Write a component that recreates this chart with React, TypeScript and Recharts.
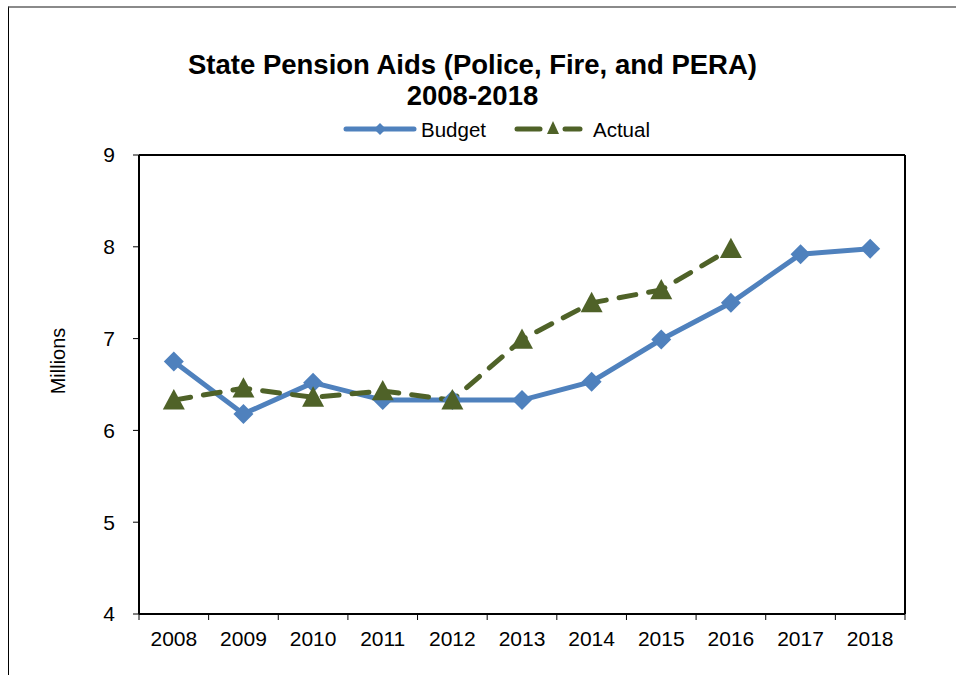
import React from "react";
import { LineChart, Line, XAxis, YAxis } from "recharts";

const years = [2008, 2009, 2010, 2011, 2012, 2013, 2014, 2015, 2016, 2017, 2018];
const budget = [6.75, 6.18, 6.52, 6.33, 6.33, 6.33, 6.53, 6.99, 7.39, 7.92, 7.98];
const actual = [6.33, 6.46, 6.36, 6.43, 6.33, 6.99, 7.39, 7.53, 7.98, null, null];
const yTicks = [4, 5, 6, 7, 8, 9];
const boundaryTicks = [2007.5, 2008.5, 2009.5, 2010.5, 2011.5, 2012.5, 2013.5, 2014.5, 2015.5, 2016.5, 2017.5, 2018.5];

const BLUE = "#4F81BD";
const OLIVE = "#4F6228";
const FONT = "Arial, 'Liberation Sans', sans-serif";

const data = years.map((year, i) => ({
  year,
  budget: budget[i],
  actual: actual[i],
}));

const Diamond = (props: any) => {
  const { cx, cy, size = 10 } = props;
  if (cx == null || cy == null) return null;
  return (
    <path
      d={`M${cx},${cy - size} L${cx + size},${cy} L${cx},${cy + size} L${cx - size},${cy} Z`}
      fill={BLUE}
    />
  );
};

const Triangle = (props: any) => {
  const { cx, cy, value, size = 11 } = props;
  if (cx == null || cy == null || value == null) return null;
  return (
    <path
      d={`M${cx},${cy - size} L${cx + size},${cy + size * 0.85} L${cx - size},${cy + size * 0.85} Z`}
      fill={OLIVE}
    />
  );
};

const Blank = () => <g />;

export default function App() {
  return (
    <div style={{ position: "absolute", left: 0, top: 0, width: 963, height: 675, fontFamily: FONT }}>
      <div
        style={{
          position: "absolute",
          left: 8,
          top: 6,
          width: 947,
          height: 675,
          borderTop: "2px solid #8a8a8a",
          borderLeft: "1px solid #000",
        }}
      />
      <div
        style={{
          position: "absolute",
          left: 0,
          width: 945,
          top: 49,
          textAlign: "center",
          fontWeight: "bold",
          fontSize: 27.5,
          lineHeight: "31px",
          color: "#000",
        }}
      >
        State Pension Aids (Police, Fire, and PERA)
        <br />
        2008-2018
      </div>
      <svg style={{ position: "absolute", left: 0, top: 0 }} width={963} height={675}>
        <line x1={346} y1={129} x2={414} y2={129} stroke={BLUE} strokeWidth={5} strokeLinecap="round" />
        <Diamond cx={380} cy={129} size={6} />
        <text x={421} y={137} fontSize={20.5} fontFamily={FONT} fill="#000">Budget</text>
        <line x1={517} y1={129} x2={540} y2={129} stroke={OLIVE} strokeWidth={5} strokeLinecap="round" />
        <line x1={565} y1={129} x2={580} y2={129} stroke={OLIVE} strokeWidth={5} strokeLinecap="round" />
        <path d="M553,121 L559,134 L547,134 Z" fill={OLIVE} />
        <text x={593} y={137} fontSize={20.5} fontFamily={FONT} fill="#000">Actual</text>
        <text x={65} y={361} fontSize={20} fontFamily={FONT} textAnchor="middle" transform="rotate(-90 65 361)">
          Millions
        </text>
      </svg>
      <div style={{ position: "absolute", left: 0, top: 0 }}>
        <LineChart
          width={963}
          height={675}
          data={data}
          margin={{ top: 154, right: 57, left: 138, bottom: 59 }}
          style={{ fontFamily: FONT }}
        >
          <XAxis
            xAxisId="lab"
            dataKey="year"
            type="number"
            domain={[2007.5, 2018.5]}
            ticks={years}
            interval={0}
            height={1}
            tickLine={false}
            axisLine={false}
            tickSize={0}
            tickMargin={16}
            tick={{ fill: "#000", fontSize: 21, fontFamily: FONT }}
          />
          <XAxis
            xAxisId="bnd"
            dataKey="year"
            type="number"
            domain={[2007.5, 2018.5]}
            ticks={boundaryTicks}
            interval={0}
            height={1}
            tick={<Blank />}
            tickSize={6}
            tickLine={{ stroke: "#000", strokeWidth: 1 }}
            axisLine={{ stroke: "#000", strokeWidth: 2 }}
          />
          <XAxis
            xAxisId="top"
            orientation="top"
            dataKey="year"
            type="number"
            domain={[2007.5, 2018.5]}
            height={1}
            tick={false}
            tickLine={false}
            axisLine={{ stroke: "#000", strokeWidth: 2 }}
          />
          <YAxis
            yAxisId="l"
            domain={[4, 9]}
            ticks={yTicks}
            interval={0}
            width={1}
            tickSize={6}
            tickMargin={18}
            tickLine={{ stroke: "#000", strokeWidth: 1 }}
            axisLine={{ stroke: "#000", strokeWidth: 2 }}
            tick={{ fill: "#000", fontSize: 21, fontFamily: FONT }}
          />
          <YAxis
            yAxisId="r"
            orientation="right"
            domain={[4, 9]}
            width={1}
            tick={false}
            tickLine={false}
            axisLine={{ stroke: "#000", strokeWidth: 2 }}
          />
          <Line
            xAxisId="lab"
            yAxisId="l"
            dataKey="budget"
            stroke={BLUE}
            strokeWidth={5}
            dot={<Diamond />}
            activeDot={false}
            isAnimationActive={false}
          />
          <Line
            xAxisId="lab"
            yAxisId="l"
            dataKey="actual"
            stroke={OLIVE}
            strokeWidth={5}
            strokeDasharray="17 13"
            strokeLinecap="round"
            dot={<Triangle />}
            activeDot={false}
            connectNulls={false}
            isAnimationActive={false}
          />
        </LineChart>
      </div>
    </div>
  );
}
